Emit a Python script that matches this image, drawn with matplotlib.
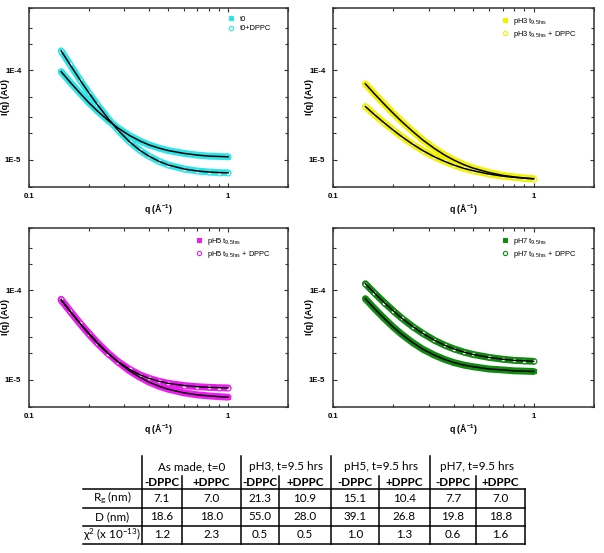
import numpy as np
import matplotlib.pyplot as plt
from matplotlib.ticker import LogLocator, NullFormatter

plt.rcParams['font.family'] = ['Liberation Sans', 'DejaVu Sans']
plt.rcParams['mathtext.default'] = 'regular'

# ---- data (q in 1/A, I in AU) ----
q = [0.145, 0.16, 0.18, 0.2, 0.22, 0.25, 0.28, 0.32, 0.36, 0.4, 0.45, 0.5,
     0.6, 0.7, 0.8, 0.9, 1.0]

I_t0 = [9.7e-5, 7.5e-5, 5.6e-5, 4.35e-5, 3.54e-5, 2.75e-5, 2.27e-5, 1.87e-5,
        1.63e-5, 1.47e-5, 1.35e-5, 1.27e-5, 1.18e-5, 1.13e-5, 1.1e-5, 1.09e-5, 1.08e-5]
I_t0_dppc = [1.66e-4, 1.18e-4, 7.9e-5, 5.6e-5, 4.17e-5, 2.89e-5, 2.15e-5, 1.59e-5,
             1.28e-5, 1.1e-5, 9.6e-6, 8.76e-6, 7.9e-6, 7.5e-6, 7.3e-6, 7.2e-6, 7.15e-6]

I_ph3 = [7.08e-5, 5.55e-5, 4.2e-5, 3.3e-5, 2.68e-5, 2.07e-5, 1.67e-5, 1.34e-5,
         1.13e-5, 9.94e-6, 8.8e-6, 8.06e-6, 7.2e-6, 6.7e-6, 6.43e-6, 6.26e-6, 6.14e-6]
I_ph3_dppc = [3.95e-5, 3.24e-5, 2.59e-5, 2.14e-5, 1.82e-5, 1.49e-5, 1.27e-5, 1.08e-5,
              9.6e-6, 8.74e-6, 8.0e-6, 7.54e-6, 6.92e-6, 6.57e-6, 6.36e-6, 6.22e-6, 6.13e-6]

I_ph5 = [7.79e-5, 5.94e-5, 4.32e-5, 3.31e-5, 2.63e-5, 1.98e-5, 1.58e-5, 1.26e-5,
         1.07e-5, 9.45e-6, 8.47e-6, 7.85e-6, 7.14e-6, 6.79e-6, 6.6e-6, 6.48e-6, 6.4e-6]
I_ph5_dppc = [7.96e-5, 5.96e-5, 4.27e-5, 3.24e-5, 2.57e-5, 1.96e-5, 1.6e-5, 1.31e-5,
              1.14e-5, 1.04e-5, 9.61e-6, 9.14e-6, 8.62e-6, 8.37e-6, 8.24e-6, 8.16e-6, 8.11e-6]

I_ph7 = [8.1e-5, 6.36e-5, 4.86e-5, 3.88e-5, 3.23e-5, 2.6e-5, 2.2e-5, 1.89e-5,
         1.69e-5, 1.56e-5, 1.46e-5, 1.4e-5, 1.32e-5, 1.29e-5, 1.26e-5, 1.25e-5, 1.24e-5]
I_ph7_dppc = [1.19e-4, 9.48e-5, 7.33e-5, 5.9e-5, 4.9e-5, 3.93e-5, 3.31e-5, 2.77e-5,
              2.44e-5, 2.22e-5, 2.04e-5, 1.92e-5, 1.78e-5, 1.7e-5, 1.65e-5, 1.63e-5, 1.61e-5]

labels_plain = ['t0', 'pH3 t$_{9.5hrs}$', 'pH5 t$_{9.5hrs}$', 'pH7 t$_{9.5hrs}$']
labels_dppc = ['t0+DPPC', 'pH3 t$_{9.5hrs}$ + DPPC', 'pH5 t$_{9.5hrs}$ + DPPC',
               'pH7 t$_{9.5hrs}$ + DPPC']
colors = ['#2ee6ea', '#f2f200', '#ee1cee', '#118a11']

xtick_vals = [0.1, 1]
xtick_labels = ['0.1', '1']
ytick_vals = [1e-5, 1e-4]
ytick_labels = ['1E-5', '1E-4']

# table
group_names = ['As made, t=0', 'pH3, t=9.5 hrs', 'pH5, t=9.5 hrs', 'pH7, t=9.5 hrs']
sub_names = ['-DPPC', '+DPPC']
row_names = ['R$_g$ (nm)', 'D (nm)', '$\\chi^2$ (x 10$^{-13}$)']
Rg = ['7.1', '7.0', '21.3', '10.9', '15.1', '10.4', '7.7', '7.0']
D = ['18.6', '18.0', '55.0', '28.0', '39.1', '26.8', '19.8', '18.8']
chi2 = ['1.2', '2.3', '0.5', '0.5', '1.0', '1.3', '0.6', '1.6']

panels = [
    (I_t0, I_t0_dppc),
    (I_ph3, I_ph3_dppc),
    (I_ph5, I_ph5_dppc),
    (I_ph7, I_ph7_dppc),
]

W, H = 604, 553
fig = plt.figure(figsize=(W / 100, H / 100), dpi=100)

# axes boxes in pixels: left, top, right, bottom
boxes = [(29, 8, 288, 186.7), (333, 8, 594, 186.7),
         (29, 228, 288, 406.7), (333, 228, 594, 406.7)]

for i, (Ia, Ib) in enumerate(panels):
    l, t, r, b = boxes[i]
    ax = fig.add_axes([l / W, 1 - b / H, (r - l) / W, (b - t) / H])
    c = colors[i]
    # data band + markers + black fit line
    for I, mk, lab in [(Ia, 's', labels_plain[i]), (Ib, 'o', labels_dppc[i])]:
        ax.plot(q, I, '-', color=c, lw=5, solid_capstyle='round', zorder=2)
        ax.plot(q, I, ls='none', marker=mk, ms=3.4, color=c,
                mfc=c if mk == 's' else 'white', mec=c, mew=0.8, label=lab, zorder=3)
        ax.plot(q, I, '-', color='black', lw=1.1, zorder=4)
    ax.set_xscale('log')
    ax.set_yscale('log')
    ax.set_xlim(0.1, 2)
    ax.set_ylim(5e-6, 5e-4)
    ax.set_xticks(xtick_vals)
    ax.set_xticklabels(xtick_labels, fontsize=5.6, fontweight='bold')
    ax.set_yticks(ytick_vals)
    ax.set_yticklabels(ytick_labels, fontsize=5.6, fontweight='bold')
    ax.xaxis.set_minor_locator(LogLocator(base=10, subs=np.arange(2, 10)))
    ax.xaxis.set_minor_formatter(NullFormatter())
    ax.yaxis.set_minor_locator(LogLocator(base=10, subs=(2, 3, 5)))
    ax.yaxis.set_minor_formatter(NullFormatter())
    ax.tick_params(which='both', direction='in', top=True, right=True,
                   color='#333333', width=0.8)
    ax.tick_params(which='major', length=3)
    ax.tick_params(which='minor', length=2)
    ax.tick_params(axis='x', pad=4.5)
    ax.tick_params(axis='y', pad=5.5)
    for s in ax.spines.values():
        s.set_linewidth(1.1)
        s.set_color('#333333')
    ax.set_xlabel('q (Å$^{-1}$)', fontsize=6.3, fontweight='bold')
    ax.set_ylabel('I(q) (AU)', fontsize=6.5, fontweight='bold')
    ax.xaxis.set_label_coords(0.5, -0.083)
    ax.yaxis.set_label_coords(-0.072, 0.5)
    ax.legend(loc='upper right', bbox_to_anchor=(0.96, 0.995), frameon=False,
              fontsize=5.4, handlelength=1.0, handletextpad=0.6, labelspacing=0.3,
              markerscale=0.9)

# ---- table ----
tax = fig.add_axes([0, 0, 1, 1])
tax.set_xlim(0, W)
tax.set_ylim(H, 0)
tax.axis('off')

col_edges = [83, 142, 182, 241, 279, 331, 379, 430, 476, 525]
y_top, y_sub, y_head, y_rows = 456, 476, 489, [489, 507.5, 525.5, 543.5]
tfont = dict(family=['Lato', 'DejaVu Sans'], fontsize=8.4, ha='center', va='center')
lc = dict(color='black', lw=1.1)

# horizontal lines
for y in y_rows:
    tax.plot([col_edges[0], col_edges[-1]], [y, y], **lc)
# full-height vertical separators (label col + group bounds)
for k in [1, 3, 5, 7]:
    tax.plot([col_edges[k], col_edges[k]], [y_top, y_rows[-1]], **lc)
# sub-column separators
for k in [2, 4, 6, 8]:
    tax.plot([col_edges[k], col_edges[k]], [y_sub, y_rows[-1]], **lc)
tax.plot([col_edges[-1], col_edges[-1]], [y_head, y_rows[-1]], **lc)

for g, name in enumerate(group_names):
    x0, x1 = col_edges[1 + 2 * g], col_edges[3 + 2 * g]
    tax.text((x0 + x1) / 2, 467, name, **tfont)
    for s in range(2):
        xa, xb = col_edges[1 + 2 * g + s], col_edges[2 + 2 * g + s]
        tax.text((xa + xb) / 2, 482.5, sub_names[s], fontweight='bold', **tfont)

for r, (name, vals) in enumerate(zip(row_names, [Rg, D, chi2])):
    yc = (y_rows[r] + y_rows[r + 1]) / 2
    tax.text((col_edges[0] + col_edges[1]) / 2, yc, name, **tfont)
    for j, v in enumerate(vals):
        tax.text((col_edges[j + 1] + col_edges[j + 2]) / 2, yc, v, **tfont)

fig.savefig('out.png', dpi=100)
